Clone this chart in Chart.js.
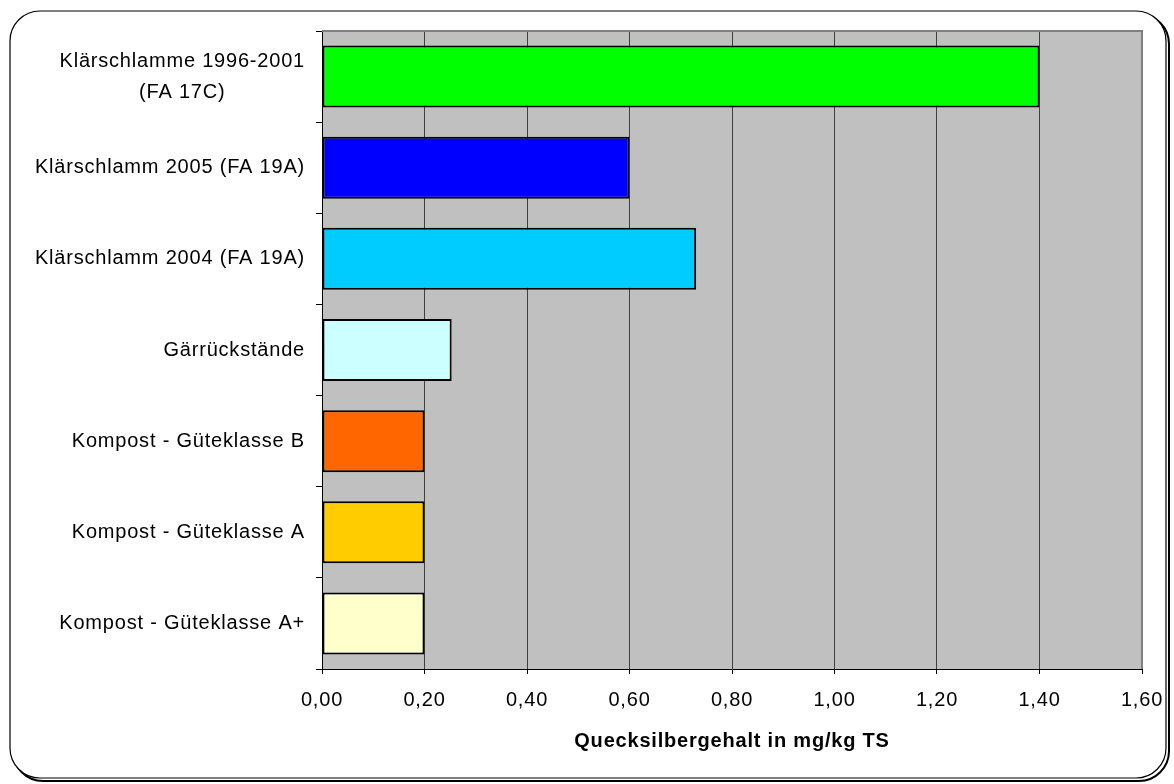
<!DOCTYPE html>
<html>
<head>
<meta charset="utf-8">
<script src="https://cdn.jsdelivr.net/npm/chart.js@4.4.0/dist/chart.umd.min.js"></script>
<style>
  html, body { margin: 0; padding: 0; background: #fff; }
  #wrap { width: 1174px; height: 784px; }
</style>
</head>
<body>
<div id="wrap"><canvas id="myChart" width="1174" height="784"></canvas></div>
<script>
const ctx = document.getElementById("myChart");

// data
const categories = [
  ["Klärschlamme 1996-2001", "(FA 17C)"],
  "Klärschlamm 2005 (FA 19A)",
  "Klärschlamm 2004 (FA 19A)",
  "Gärrückstände",
  "Kompost - Güteklasse B",
  "Kompost - Güteklasse A",
  "Kompost - Güteklasse A+"
];
const mercury = [1.40, 0.60, 0.73, 0.253, 0.20, 0.20, 0.20];
const barColors = ["#00FF00", "#0000FF", "#00CCFF", "#CCFFFF", "#FF6600", "#FFCC00", "#FFFFCC"];
const xTitle = "Quecksilbergehalt in mg/kg TS";
const xMin = 0, xMax = 1.6, xStep = 0.2;

const FONT = "'Liberation Sans', Arial, sans-serif";

// white page, rounded frame with shadow, grey plot area
const framePlugin = {
  id: "frame",
  beforeLayout(chart) {
    chart.ctx.letterSpacing = "0.8px";
  },
  beforeDraw(chart) {
    const c = chart.ctx;
    const a = chart.chartArea;
    c.save();
    c.fillStyle = "#fff";
    c.fillRect(0, 0, chart.width, chart.height);
    // shadow
    c.beginPath();
    c.roundRect(13, 14, 1156, 767, 30);
    c.lineWidth = 2;
    c.strokeStyle = "#000";
    c.stroke();
    // frame
    c.beginPath();
    c.roundRect(10, 11, 1156, 767, 30);
    c.fillStyle = "#fff";
    c.fill();
    c.lineWidth = 1.2;
    c.strokeStyle = "#000";
    c.stroke();
    // plot area
    c.fillStyle = "#C0C0C0";
    c.fillRect(a.left, a.top, a.right - a.left, a.bottom - a.top);
    c.restore();
    c.letterSpacing = "0.8px";
  },
  afterDraw(chart) {
    const c = chart.ctx;
    const a = chart.chartArea;
    c.save();
    // grey top and right edge of plot area
    c.strokeStyle = "#808080";
    c.lineWidth = 2;
    c.beginPath();
    c.moveTo(a.left, a.top);
    c.lineTo(a.right, a.top);
    c.lineTo(a.right, a.bottom);
    c.stroke();
    // category labels, lines centred on each other, block right aligned
    const yScale = chart.scales.y;
    c.font = "20px " + FONT;
    c.letterSpacing = "0.8px";
    c.fillStyle = "#000";
    c.textAlign = "center";
    c.textBaseline = "middle";
    const lineGap = 31;
    categories.forEach((lab, i) => {
      const lines = Array.isArray(lab) ? lab : [lab];
      const w = Math.max(...lines.map(l => c.measureText(l).width));
      const cx = a.left - 17 - w / 2;
      const cy = yScale.getPixelForValue(i);
      lines.forEach((l, k) => {
        c.fillText(l, cx, cy + (k - (lines.length - 1) / 2) * lineGap);
      });
    });
    c.restore();
  }
};

const data = {
  labels: categories,
  datasets: [
    {
      data: mercury,
      backgroundColor: barColors,
      borderColor: "#000",
      borderWidth: 2,
      borderSkipped: false,
      barPercentage: 0.68,
      categoryPercentage: 1.0,
    }
  ]
};

new Chart(ctx, {
  type: "bar",
  data: data,
  plugins: [framePlugin],
  options: {
    indexAxis: "y",
    responsive: false,
    animation: false,
    layout: {
      padding: { left: 0, right: 32, top: 31, bottom: 0 }
    },
    plugins: {
      legend: { display: false },
      tooltip: { enabled: false },
      title: { display: false }
    },
    scales: {
      x: {
        min: xMin,
        max: xMax,
        afterFit(scale) {
          scale.height = 115;
          scale.paddingLeft = 0;
          scale.paddingRight = 0;
        },
        ticks: {
          stepSize: xStep,
          color: "#000",
          padding: 14,
          font: { family: FONT, size: 20 },
          callback: (v) => Number(v).toFixed(2).replace(".", ",")
        },
        grid: {
          color: (c) => (c.tick && c.tick.value > 1.59 ? "#808080" : "#404040"),
          lineWidth: 1,
          tickLength: 5,
          tickColor: "#000"
        },
        border: { color: "#000", width: 1 },
        title: {
          display: true,
          text: xTitle,
          color: "#000",
          font: { family: FONT, size: 20, weight: "bold" },
          padding: { top: 0, bottom: 31 }
        }
      },
      y: {
        afterFit(scale) {
          scale.width = 322;
          scale.paddingTop = 0;
          scale.paddingBottom = 0;
        },
        ticks: { display: false },
        grid: {
          drawOnChartArea: false,
          drawTicks: true,
          tickLength: 6,
          tickColor: "#000",
          offset: true
        },
        border: { color: "#000", width: 1 }
      }
    }
  }
});
</script>
</body>
</html>
